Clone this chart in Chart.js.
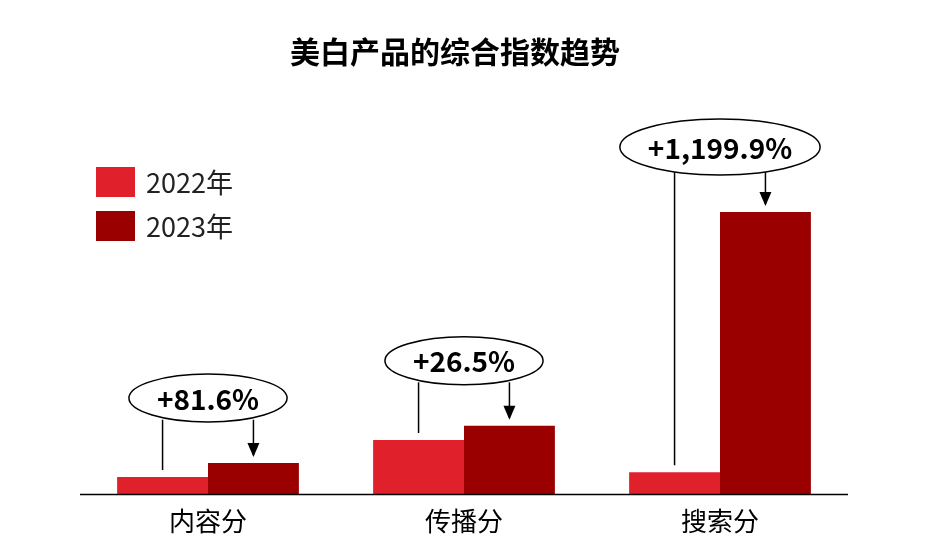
<!DOCTYPE html>
<html><head><meta charset="utf-8">
<script src="https://cdn.jsdelivr.net/npm/chart.js@4"></script>
<style>html,body{margin:0;background:#fff}#c{display:block}</style>
</head><body>
<div style="width:946px;height:558px"><canvas id="c"></canvas></div>
<script>
const categories = ['内容分', '传播分', '搜索分'];
const seriesNames = ['2022年', '2023年'];
const values2022 = [17, 54, 21.7];
const values2023 = [30.9, 68.3, 282];
const growthLabels = ['+81.6%', '+26.5%', '+1,199.9%'];
const colors = ['#E0202B', '#9A0000'];
const font = "'Noto Sans CJK SC', 'Noto Sans', sans-serif";

const overlay = {
  id: 'overlay',
  afterDraw(chart) {
    const { ctx, chartArea, scales } = chart;
    ctx.save();
    ctx.fillStyle = '#000';
    ctx.textAlign = 'center';
    ctx.textBaseline = 'middle';
    ctx.font = 'bold 30px ' + font;
    ctx.fillText('美白产品的综合指数趋势', 455, 52);
    // baseline
    ctx.strokeStyle = '#000'; ctx.lineWidth = 1.5;
    ctx.beginPath(); ctx.moveTo(chartArea.left, chartArea.bottom + 0.5); ctx.lineTo(chartArea.right, chartArea.bottom + 0.5); ctx.stroke();
    ctx.font = '26px ' + font;
    categories.forEach((c, i) => ctx.fillText(c, scales.x.getPixelForValue(i), 521));
    // legend
    ctx.textAlign = 'left';
    ctx.font = '27px ' + font;
    seriesNames.forEach((n, i) => {
      ctx.fillStyle = colors[i];
      ctx.fillRect(96, 167 + i * 44, 39, 30);
      ctx.fillStyle = '#222';
      ctx.fillText(n, 146, 183 + i * 44);
    });
    // annotations
    const m0 = chart.getDatasetMeta(0), m1 = chart.getDatasetMeta(1);
    categories.forEach((c, i) => {
      const b0 = m0.data[i], b1 = m1.data[i];
      const cx = (b0.x + b1.x) / 2, cy = b1.y - 65;
      ctx.font = 'bold 28px ' + font;
      const tw = ctx.measureText(growthLabels[i]).width;
      const rx = tw / 2 + 28, ry = i === 2 ? 28 : 24;
      ctx.strokeStyle = '#000'; ctx.lineWidth = 1.5;
      ctx.beginPath(); ctx.moveTo(b0.x, cy + ry * 0.9); ctx.lineTo(b0.x, b0.y - 7); ctx.stroke();
      ctx.beginPath(); ctx.moveTo(b1.x, cy + ry * 0.9); ctx.lineTo(b1.x, b1.y - 8); ctx.stroke();
      ctx.fillStyle = '#000';
      ctx.beginPath(); ctx.moveTo(b1.x - 6, b1.y - 20); ctx.lineTo(b1.x + 6, b1.y - 20); ctx.lineTo(b1.x, b1.y - 6); ctx.closePath(); ctx.fill();
      ctx.fillStyle = '#fff';
      ctx.beginPath(); ctx.ellipse(cx, cy, rx, ry, 0, 0, Math.PI * 2); ctx.fill(); ctx.stroke();
      ctx.fillStyle = '#000'; ctx.textAlign = 'center';
      ctx.fillText(growthLabels[i], cx, cy + 1);
    });
    ctx.restore();
  }
};

new Chart(document.getElementById('c'), {
  type: 'bar',
  data: {
    labels: categories,
    datasets: [
      { label: seriesNames[0], data: values2022, backgroundColor: colors[0] },
      { label: seriesNames[1], data: values2023, backgroundColor: colors[1] }
    ]
  },
  options: {
    responsive: true, maintainAspectRatio: false, animation: false,
    layout: { padding: { top: 94, bottom: 64, left: 80, right: 98 } },
    datasets: { bar: { categoryPercentage: 0.71, barPercentage: 1 } },
    plugins: { legend: { display: false }, tooltip: { enabled: false } },
    scales: {
      x: { display: false },
      y: { display: false, min: 0, max: 400 }
    }
  },
  plugins: [overlay]
});
</script>
</body></html>
